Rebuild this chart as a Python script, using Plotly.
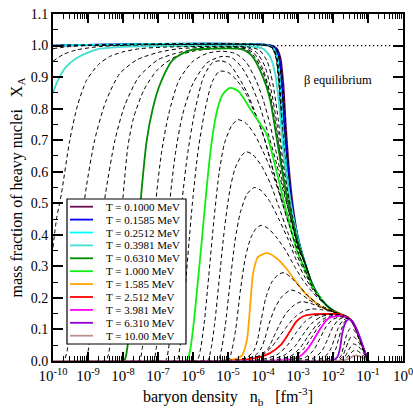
import plotly.graph_objects as go

# ---------------- data (log10 of baryon density [fm^-3], X_A) ----------------
decade_exponents = [-10, -9, -8, -7, -6, -5, -4, -3, -2, -1, 0]
x_tick_text = ["10<sup>%d</sup>" % e for e in decade_exponents]
y_tick_values = [0.0, 0.1, 0.2, 0.3, 0.4, 0.5, 0.6, 0.7, 0.8, 0.9, 1.0, 1.1]

legend_labels = ["T = 0.1000 MeV", "T = 0.1585 MeV", "T = 0.2512 MeV", "T = 0.3981 MeV",
                 "T = 0.6310 MeV", "T = 1.000 MeV", "T = 1.585 MeV", "T = 2.512 MeV",
                 "T = 3.981 MeV", "T = 6.310 MeV", "T = 10.00 MeV"]
legend_colors = ["#6a0d53", "#0000ff", "#00ffff", "#40e0d0", "#008b00", "#11ee11",
                 "#ffa500", "#ff0000", "#ff00ff", "#9400d3", "#bc8f8f"]

# common high-density tail where all curves converge
TAIL = [(-2.8, 0.31), (-2.6, 0.245), (-2.4, 0.205), (-2.2, 0.178), (-2.0, 0.16), (-1.8, 0.149),
        (-1.6, 0.14), (-1.45, 0.125), (-1.3, 0.09), (-1.15, 0.045), (-1.0, 0.0)]
TAIL_24 = TAIL[2:]
TAIL_22 = TAIL[3:]
TAIL_16 = TAIL[6:]

c00 = [(-10, 1.0), (-3.75, 1.0), (-3.60, 0.99), (-3.50, 0.96), (-3.42, 0.88), (-3.35, 0.75), (-3.25, 0.60), (-3.12, 0.47), (-3.00, 0.39)] + TAIL
c01 = [(-10, 1.0), (-3.76, 1.0), (-3.61, 0.99), (-3.51, 0.96), (-3.43, 0.88), (-3.36, 0.75), (-3.26, 0.60), (-3.13, 0.47), (-3.00, 0.39)] + TAIL
c02 = [(-10, 1.0), (-3.77, 1.0), (-3.62, 0.99), (-3.52, 0.96), (-3.44, 0.88), (-3.37, 0.75), (-3.27, 0.60), (-3.13, 0.47), (-3.00, 0.39)] + TAIL
c03 = [(-10, 1.0), (-3.78, 1.0), (-3.63, 0.99), (-3.53, 0.96), (-3.45, 0.88), (-3.38, 0.75), (-3.27, 0.60), (-3.14, 0.47), (-3.00, 0.39)] + TAIL
c04 = [(-10, 1.0), (-3.78, 1.0), (-3.63, 0.99), (-3.53, 0.96), (-3.45, 0.88), (-3.38, 0.75), (-3.27, 0.60), (-3.14, 0.47), (-3.00, 0.39)] + TAIL
c05 = [(-10, 1.0), (-3.79, 1.0), (-3.64, 0.99), (-3.54, 0.96), (-3.46, 0.88), (-3.39, 0.75), (-3.28, 0.60), (-3.14, 0.47), (-3.00, 0.39)] + TAIL
c06 = [(-10, 1.0), (-3.80, 1.0), (-3.65, 0.99), (-3.55, 0.96), (-3.47, 0.88), (-3.40, 0.75), (-3.29, 0.60), (-3.15, 0.47), (-3.00, 0.39)] + TAIL
c07 = [(-10, 1.0), (-3.81, 1.0), (-3.66, 0.99), (-3.56, 0.96), (-3.48, 0.88), (-3.41, 0.75), (-3.30, 0.60), (-3.15, 0.47), (-3.00, 0.39)] + TAIL
c08 = [(-10, 1.0), (-3.82, 1.0), (-3.67, 0.99), (-3.57, 0.96), (-3.49, 0.88), (-3.42, 0.75), (-3.31, 0.60), (-3.16, 0.47), (-3.00, 0.39)] + TAIL
c09 = [(-10, 1.0), (-3.83, 1.0), (-3.68, 0.99), (-3.58, 0.96), (-3.50, 0.88), (-3.43, 0.75), (-3.31, 0.60), (-3.16, 0.47), (-3.00, 0.39)] + TAIL
c10 = [(-10, 1.0), (-3.84, 1.0), (-3.69, 0.99), (-3.59, 0.96), (-3.51, 0.88), (-3.44, 0.75), (-3.32, 0.60), (-3.17, 0.47), (-3.00, 0.39)] + TAIL
c11 = [(-10, 1.0), (-3.85, 1.0), (-3.70, 0.99), (-3.60, 0.96), (-3.52, 0.88), (-3.45, 0.75), (-3.33, 0.60), (-3.17, 0.47), (-3.00, 0.39)] + TAIL
c12 = [(-10, 0.998), (-9.5, 1.0), (-3.86, 1.0), (-3.71, 0.99), (-3.61, 0.96), (-3.53, 0.88), (-3.46, 0.75), (-3.34, 0.60), (-3.18, 0.47), (-3.00, 0.39)] + TAIL
c13 = [(-10, 0.99), (-9.6, 0.996), (-9.0, 1.0), (-3.87, 1.0), (-3.72, 0.99), (-3.62, 0.96), (-3.54, 0.88), (-3.47, 0.75), (-3.35, 0.60), (-3.18, 0.47), (-3.00, 0.39)] + TAIL
c14 = [(-10, 0.95), (-9.7, 0.972), (-9.33, 0.986), (-8.66, 0.997), (-8.0, 1.0), (-3.88, 1.0), (-3.73, 0.99), (-3.63, 0.96), (-3.55, 0.88), (-3.48, 0.75), (-3.35, 0.60), (-3.19, 0.47), (-3.00, 0.39)] + TAIL
c15 = [(-10, 0.85), (-9.86, 0.89), (-9.62, 0.933), (-9.33, 0.96), (-8.95, 0.98), (-8.66, 0.99), (-8.0, 0.996), (-7.0, 0.998),
       (-4.3, 0.997), (-4.0, 0.99), (-3.8, 0.965), (-3.65, 0.91), (-3.53, 0.80), (-3.42, 0.67), (-3.28, 0.55), (-3.14, 0.46), (-3.0, 0.385)] + TAIL
c16 = [(-10, 0.36), (-9.9, 0.45), (-9.76, 0.53), (-9.52, 0.70), (-9.3, 0.81), (-9.04, 0.89), (-8.7, 0.94), (-8.38, 0.965), (-8.0, 0.98), (-7.52, 0.99), (-6.8, 0.995),
       (-4.4, 0.995), (-4.1, 0.985), (-3.88, 0.95), (-3.72, 0.88), (-3.57, 0.77), (-3.45, 0.65), (-3.3, 0.54), (-3.15, 0.455), (-3.0, 0.38)] + TAIL
c17 = [(-10, 0.0), (-9.7, 0.0), (-9.6, 0.03), (-9.5, 0.12), (-9.35, 0.28), (-9.2, 0.42), (-9.05, 0.55), (-8.81, 0.70), (-8.5, 0.82), (-8.1, 0.91), (-7.6, 0.955),
       (-7.0, 0.978), (-6.4, 0.99), (-5.6, 0.994), (-4.45, 0.993), (-4.2, 0.98), (-3.95, 0.935), (-3.77, 0.86), (-3.6, 0.75), (-3.47, 0.64), (-3.32, 0.535), (-3.16, 0.45), (-3.0, 0.378)] + TAIL
c18 = [(-10, 0.0), (-9.1, 0.0), (-9.0, 0.03), (-8.9, 0.12), (-8.75, 0.30), (-8.6, 0.45), (-8.5, 0.53), (-8.23, 0.70), (-7.95, 0.81), (-7.55, 0.90), (-7.0, 0.955),
       (-6.5, 0.975), (-6.0, 0.987), (-5.3, 0.992), (-4.5, 0.99), (-4.25, 0.975), (-4.0, 0.925), (-3.8, 0.85), (-3.62, 0.735), (-3.48, 0.63), (-3.33, 0.53), (-3.17, 0.448), (-3.0, 0.375)] + TAIL
c19 = [(-10, 0.0), (-8.5, 0.0), (-8.4, 0.03), (-8.3, 0.13), (-8.15, 0.33), (-8.0, 0.52), (-7.86, 0.68), (-7.7, 0.77), (-7.4, 0.86), (-7.0, 0.925), (-6.5, 0.965),
       (-6.0, 0.982), (-5.4, 0.99), (-4.55, 0.99), (-4.28, 0.97), (-4.0, 0.915), (-3.8, 0.84), (-3.62, 0.72), (-3.47, 0.615), (-3.32, 0.52), (-3.16, 0.445), (-3.0, 0.372)] + TAIL
c20 = [(-10, 0.0), (-7.98, 0.0), (-7.88, 0.04), (-7.76, 0.16), (-7.62, 0.33), (-7.47, 0.54), (-7.32, 0.70), (-7.15, 0.80), (-6.95, 0.875), (-6.57, 0.955), (-6.09, 0.985),
       (-5.5, 0.99), (-4.6, 0.988), (-4.3, 0.965), (-4.0, 0.90), (-3.8, 0.83), (-3.6, 0.70), (-3.45, 0.60), (-3.3, 0.51), (-3.15, 0.44), (-3.0, 0.37)] + TAIL
c21 = [(-10, 0.0), (-7.55, 0.0), (-7.45, 0.04), (-7.33, 0.16), (-7.2, 0.33), (-7.05, 0.52), (-6.9, 0.66), (-6.7, 0.78), (-6.4, 0.89), (-6.0, 0.95), (-5.6, 0.975),
       (-5.2, 0.982), (-4.8, 0.975), (-4.5, 0.95), (-4.2, 0.89), (-4.0, 0.83), (-3.8, 0.75), (-3.6, 0.65), (-3.45, 0.57), (-3.3, 0.49), (-3.15, 0.43), (-3.0, 0.365)] + TAIL
c22 = [(-10, 0.0), (-7.15, 0.0), (-7.05, 0.04), (-6.93, 0.16), (-6.8, 0.33), (-6.65, 0.52), (-6.5, 0.66), (-6.3, 0.78), (-6.0, 0.88), (-5.6, 0.945), (-5.2, 0.965),
       (-4.9, 0.962), (-4.6, 0.93), (-4.35, 0.88), (-4.1, 0.81), (-3.85, 0.72), (-3.6, 0.62), (-3.4, 0.53), (-3.2, 0.45), (-3.0, 0.365)] + TAIL
c23 = [(-10, 0.0), (-6.8, 0.0), (-6.7, 0.04), (-6.58, 0.16), (-6.45, 0.33), (-6.3, 0.52), (-6.15, 0.66), (-5.95, 0.79), (-5.7, 0.90), (-5.45, 0.945), (-5.2, 0.952),
       (-4.95, 0.94), (-4.7, 0.90), (-4.45, 0.85), (-4.2, 0.78), (-3.95, 0.70), (-3.7, 0.60), (-3.45, 0.51), (-3.2, 0.44), (-3.0, 0.36)] + TAIL
c24 = [(-10, 0.0), (-6.48, 0.0), (-6.38, 0.04), (-6.27, 0.16), (-6.15, 0.33), (-6.0, 0.52), (-5.85, 0.67), (-5.65, 0.80), (-5.45, 0.885), (-5.25, 0.918), (-5.0, 0.915),
       (-4.75, 0.89), (-4.5, 0.85), (-4.25, 0.79), (-4.0, 0.72), (-3.75, 0.62), (-3.5, 0.52), (-3.25, 0.43), (-3.0, 0.355)] + TAIL
c25 = [(-10, 0.0), (-6.2, 0.0), (-6.09, 0.03), (-5.98, 0.12), (-5.88, 0.23), (-5.75, 0.38), (-5.6, 0.56), (-5.46, 0.70), (-5.3, 0.80), (-5.15, 0.845), (-4.94, 0.866),
       (-4.7, 0.855), (-4.37, 0.80), (-4.1, 0.755), (-3.9, 0.72), (-3.7, 0.64), (-3.5, 0.55), (-3.3, 0.46), (-3.03, 0.35), (-2.8, 0.29), (-2.6, 0.24)] + TAIL_24
c26 = [(-10, 0.0), (-5.9, 0.0), (-5.8, 0.03), (-5.68, 0.12), (-5.55, 0.27), (-5.4, 0.45), (-5.25, 0.60), (-5.1, 0.69), (-4.9, 0.745), (-4.72, 0.765), (-4.5, 0.755),
       (-4.25, 0.72), (-4.0, 0.665), (-3.75, 0.60), (-3.5, 0.52), (-3.25, 0.43), (-3.0, 0.345), (-2.8, 0.29), (-2.6, 0.24)] + TAIL_24
c27 = [(-10, 0.0), (-5.6, 0.0), (-5.5, 0.03), (-5.38, 0.12), (-5.25, 0.26), (-5.1, 0.42), (-4.95, 0.54), (-4.8, 0.61), (-4.62, 0.65), (-4.48, 0.663), (-4.3, 0.655),
       (-4.05, 0.62), (-3.8, 0.565), (-3.55, 0.49), (-3.3, 0.41), (-3.05, 0.34), (-2.8, 0.28), (-2.6, 0.235)] + TAIL_24
c28 = [(-10, 0.0), (-5.3, 0.0), (-5.2, 0.03), (-5.08, 0.11), (-4.95, 0.24), (-4.8, 0.38), (-4.65, 0.47), (-4.45, 0.53), (-4.25, 0.55), (-4.05, 0.54), (-3.8, 0.505),
       (-3.55, 0.45), (-3.3, 0.39), (-3.05, 0.32), (-2.8, 0.265), (-2.6, 0.23), (-2.4, 0.20)] + TAIL_22
c29 = [(-10, 0.0), (-5.0, 0.0), (-4.9, 0.03), (-4.78, 0.10), (-4.65, 0.22), (-4.5, 0.33), (-4.35, 0.39), (-4.2, 0.42), (-4.05, 0.43), (-3.85, 0.42), (-3.6, 0.39),
       (-3.35, 0.35), (-3.1, 0.30), (-2.85, 0.255), (-2.6, 0.22), (-2.4, 0.197)] + TAIL_22
c30 = [(-10, 0.0), (-5.6, 0.0), (-5.0, 0.003), (-4.75, 0.008), (-4.6, 0.018), (-4.46, 0.066), (-4.37, 0.17), (-4.28, 0.28), (-4.14, 0.33), (-3.88, 0.342),
       (-3.6, 0.325), (-3.31, 0.29), (-3.03, 0.247), (-2.8, 0.215), (-2.6, 0.195), (-2.31, 0.17), (-2.0, 0.157), (-1.8, 0.149)] + TAIL_16
c31 = [(-10, 0.0), (-5.3, 0.0), (-4.8, 0.004), (-4.45, 0.012), (-4.25, 0.035), (-4.15, 0.07), (-4.05, 0.13), (-3.92, 0.20), (-3.75, 0.25), (-3.55, 0.275),
       (-3.4, 0.28), (-3.2, 0.265), (-2.95, 0.235), (-2.7, 0.205), (-2.45, 0.183), (-2.2, 0.168), (-2.0, 0.157), (-1.8, 0.149)] + TAIL_16
c32 = [(-10, 0.0), (-5.2, 0.0), (-4.6, 0.005), (-4.25, 0.015), (-4.05, 0.04), (-3.95, 0.07), (-3.82, 0.12), (-3.65, 0.17), (-3.45, 0.205), (-3.2, 0.225),
       (-2.95, 0.215), (-2.7, 0.195), (-2.45, 0.178), (-2.2, 0.165), (-2.0, 0.156), (-1.8, 0.149)] + TAIL_16
c33 = [(-10, 0.0), (-5.1, 0.0), (-4.5, 0.006), (-4.1, 0.017), (-3.85, 0.04), (-3.72, 0.07), (-3.55, 0.11), (-3.35, 0.15), (-3.1, 0.178), (-2.9, 0.188),
       (-2.65, 0.183), (-2.4, 0.172), (-2.15, 0.162), (-1.95, 0.155), (-1.8, 0.149)] + TAIL_16
c34 = [(-10, 0.0), (-5.0, 0.0), (-4.4, 0.008), (-4.0, 0.02), (-3.75, 0.045), (-3.58, 0.07), (-3.35, 0.105), (-3.1, 0.138), (-2.85, 0.158), (-2.6, 0.165),
       (-2.35, 0.163), (-2.1, 0.158), (-1.9, 0.152), (-1.8, 0.149)] + TAIL_16
c35 = [(-10, 0.0), (-5.0, 0.0), (-4.5, 0.004), (-4.1, 0.012), (-3.8, 0.025), (-3.5, 0.05), (-3.25, 0.09), (-3.05, 0.125), (-2.85, 0.142), (-2.6, 0.148),
       (-2.2, 0.149), (-1.9, 0.149), (-1.8, 0.148)] + TAIL_16
c36 = [(-10, 0.0), (-4.5, 0.0), (-4.0, 0.006), (-3.6, 0.02), (-3.3, 0.05), (-3.05, 0.09), (-2.8, 0.125), (-2.55, 0.143), (-2.2, 0.148), (-1.9, 0.148), (-1.8, 0.147)] + TAIL_16
c37 = [(-10, 0.0), (-4.3, 0.0), (-3.8, 0.005), (-3.4, 0.018), (-3.1, 0.045), (-2.85, 0.085), (-2.6, 0.12), (-2.35, 0.14), (-2.1, 0.147), (-1.8, 0.147)] + TAIL_16
c38 = [(-10, 0.0), (-4.2, 0.0), (-3.6, 0.005), (-3.2, 0.016), (-2.95, 0.04), (-2.72, 0.077), (-2.48, 0.113), (-2.25, 0.135), (-2.0, 0.145), (-1.8, 0.146)] + TAIL_16
c39 = [(-10, 0.0), (-4.0, 0.0), (-3.45, 0.005), (-3.1, 0.014), (-2.85, 0.037), (-2.64, 0.07), (-2.42, 0.108), (-2.2, 0.133), (-1.95, 0.143), (-1.8, 0.145)] + TAIL_16
c40 = [(-10, 0.0), (-3.9, 0.0), (-3.3, 0.004), (-2.98, 0.012), (-2.75, 0.035), (-2.56, 0.066), (-2.35, 0.105), (-2.13, 0.135), (-1.9, 0.142), (-1.75, 0.142),
       (-1.6, 0.138), (-1.45, 0.125), (-1.3, 0.09), (-1.15, 0.045), (-1.0, 0.0)]
c41 = [(-10, 0.0), (-3.7, 0.0), (-3.1, 0.004), (-2.78, 0.012), (-2.55, 0.035), (-2.38, 0.07), (-2.2, 0.108), (-2.0, 0.132), (-1.8, 0.14), (-1.65, 0.139),
       (-1.5, 0.13), (-1.35, 0.10), (-1.2, 0.058), (-1.08, 0.025), (-0.99, 0.0)]
c42 = [(-10, 0.0), (-3.4, 0.0), (-2.8, 0.004), (-2.5, 0.012), (-2.3, 0.035), (-2.15, 0.07), (-2.0, 0.108), (-1.85, 0.13), (-1.7, 0.138), (-1.55, 0.134),
       (-1.42, 0.118), (-1.3, 0.09), (-1.18, 0.052), (-1.07, 0.022), (-0.98, 0.0)]
c43 = [(-10, 0.0), (-3.1, 0.0), (-2.5, 0.004), (-2.25, 0.012), (-2.08, 0.035), (-1.96, 0.07), (-1.85, 0.105), (-1.73, 0.127), (-1.6, 0.135), (-1.48, 0.128),
       (-1.35, 0.105), (-1.22, 0.07), (-1.1, 0.032), (-0.98, 0.0)]
c44 = [(-10, 0.0), (-2.8, 0.0), (-2.25, 0.004), (-2.05, 0.012), (-1.93, 0.035), (-1.84, 0.07), (-1.76, 0.10), (-1.67, 0.125), (-1.57, 0.134), (-1.46, 0.128),
       (-1.33, 0.102), (-1.2, 0.065), (-1.09, 0.03), (-0.98, 0.0)]
c45 = [(-10, 0.0), (-2.5, 0.0), (-2.0, 0.003), (-1.88, 0.012), (-1.8, 0.04), (-1.74, 0.085), (-1.66, 0.118), (-1.56, 0.132), (-1.46, 0.127), (-1.32, 0.10),
       (-1.2, 0.065), (-1.1, 0.032), (-0.98, 0.0)]
c46 = [(-10, 0.0), (-2.4, 0.0), (-1.9, 0.003), (-1.78, 0.015), (-1.7, 0.045), (-1.62, 0.08), (-1.52, 0.102), (-1.42, 0.10), (-1.3, 0.08), (-1.18, 0.05),
       (-1.08, 0.024), (-0.98, 0.0)]
c47 = [(-10, 0.0), (-2.3, 0.0), (-1.85, 0.003), (-1.74, 0.012), (-1.65, 0.035), (-1.57, 0.06), (-1.48, 0.077), (-1.38, 0.075), (-1.27, 0.06), (-1.16, 0.038),
       (-1.06, 0.017), (-0.97, 0.0)]
c48 = [(-10, 0.0), (-2.2, 0.0), (-1.8, 0.002), (-1.68, 0.01), (-1.6, 0.025), (-1.5, 0.045), (-1.42, 0.054), (-1.32, 0.05), (-1.2, 0.037), (-1.1, 0.02), (-0.97, 0.0)]
c49 = [(-10, 0.0), (-2.1, 0.0), (-1.75, 0.002), (-1.63, 0.008), (-1.52, 0.022), (-1.42, 0.032), (-1.33, 0.034), (-1.22, 0.026), (-1.1, 0.013), (-0.97, 0.0)]
c50 = [(-10, 0.0), (-2.0, 0.0), (-1.6, 0.004), (-1.45, 0.014), (-1.33, 0.018), (-1.2, 0.013), (-1.08, 0.005), (-0.97, 0.0)]

curves = [c00, c01, c02, c03, c04, c05, c06, c07, c08, c09, c10, c11, c12, c13, c14, c15, c16,
          c17, c18, c19, c20, c21, c22, c23, c24, c25, c26, c27, c28, c29, c30, c31, c32, c33,
          c34, c35, c36, c37, c38, c39, c40, c41, c42, c43, c44, c45, c46, c47, c48, c49, c50]

# ---------------- figure ----------------
FONT = "Liberation Serif"
L, R, T, B = 53, 10, 14, 52
W = H = 413
PW, PH = W - L - R, H - T - B


def px(xp):
    return (xp - L) / PW


def py(yp):
    return (H - B - yp) / PH


fig = go.Figure()

# beta-equilibrium reference line X_A = 1
fig.add_trace(go.Scatter(x=[1e-10, 1.0], y=[1.0, 1.0], mode="lines", hoverinfo="skip",
                         line=dict(color="black", width=1.3, dash="1.3px,2.7px")))

for k, c in enumerate(curves):
    xs = [10 ** p[0] for p in c]
    ys = [p[1] for p in c]
    if k % 5 == 0:
        line = dict(color=legend_colors[k // 5], width=1.8, shape="spline", smoothing=0.7)
    else:
        line = dict(color="black", width=1, dash="4px,3px", shape="spline", smoothing=0.7)
    fig.add_trace(go.Scatter(x=xs, y=ys, mode="lines", line=line, showlegend=False, hoverinfo="skip"))

minor_x = [m * 10 ** e for e in decade_exponents[:-1] for m in range(2, 10)]
minor_y = [0.05 + 0.1 * i for i in range(11)]

fig.update_layout(
    width=W, height=H, margin=dict(l=L, r=R, t=T, b=B),
    paper_bgcolor="white", plot_bgcolor="white",
    font=dict(family=FONT, color="black", size=14),
    showlegend=False,
    xaxis=dict(type="log", range=[-10, 0], tickmode="array",
               tickvals=[10 ** e for e in decade_exponents], ticktext=x_tick_text,
               ticks="inside", ticklen=9, tickwidth=1.5, tickcolor="black",
               showline=True, linewidth=2, linecolor="black", mirror="allticks",
               showgrid=False, zeroline=False, tickfont=dict(family=FONT, size=15),
               ticklabeloverflow="allow",
               minor=dict(tickmode="array", tickvals=minor_x, ticks="inside", ticklen=5,
                          tickwidth=1, tickcolor="black", showgrid=False),
               title=dict(text="baryon density\u00a0\u00a0 n<sub>b</sub>\u00a0\u00a0 [fm<sup>-3</sup>]",
                          font=dict(family=FONT, size=16), standoff=8),
               automargin=False),
    yaxis=dict(range=[0, 1.1], tickmode="array", tickvals=y_tick_values,
               ticktext=["%.1f" % v for v in y_tick_values],
               ticks="inside", ticklen=10, tickwidth=1.5, tickcolor="black",
               showline=True, linewidth=2, linecolor="black", mirror="allticks",
               showgrid=False, zeroline=False, tickfont=dict(family=FONT, size=14),
               ticklabeloverflow="allow",
               minor=dict(tickmode="array", tickvals=minor_y, ticks="inside", ticklen=5,
                          tickwidth=1, tickcolor="black", showgrid=False),
               title=dict(text="mass fraction of heavy nuclei\u00a0\u00a0 X<sub>A</sub>",
                          font=dict(family=FONT, size=16), standoff=4),
               automargin=False),
)

# annotation
fig.add_annotation(x=px(338), y=py(80), xref="paper", yref="paper", text="\u03b2 equilibrium",
                   showarrow=False, font=dict(family=FONT, size=12.5), xanchor="center", yanchor="middle")

# legend box drawn in the plot
bx0, by0, bx1, by1 = 67, 199, 186, 344
fig.add_shape(type="rect", xref="paper", yref="paper", x0=px(bx0), x1=px(bx1), y0=py(by1), y1=py(by0),
              line=dict(color="black", width=1.2), fillcolor="white", layer="above")
for i, (lab, col) in enumerate(zip(legend_labels, legend_colors)):
    yc = 206.7 + 12.9 * i
    fig.add_shape(type="line", xref="paper", yref="paper", x0=px(70), x1=px(93), y0=py(yc), y1=py(yc),
                  line=dict(color=col, width=1.8), layer="above")
    fig.add_annotation(x=px(104), y=py(yc), xref="paper", yref="paper", text=lab, showarrow=False,
                       font=dict(family=FONT, size=11), xanchor="left", yanchor="middle")

fig.write_html("out.html")
